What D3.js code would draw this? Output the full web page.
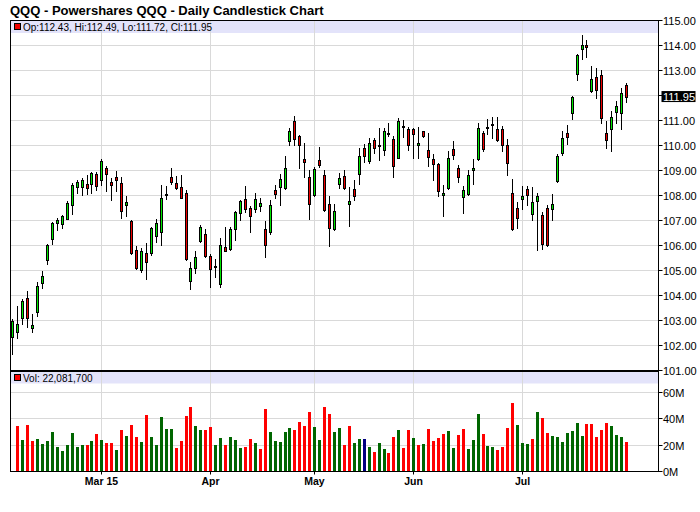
<!DOCTYPE html>
<html><head><meta charset="utf-8">
<script src="https://cdn.jsdelivr.net/npm/d3@7"></script>
<style>body{margin:0;background:#fff}svg{display:block;font-family:"Liberation Sans",Arial,sans-serif}</style>
</head><body><svg id="c" width="700" height="512"></svg>
<script>
const title = "QQQ - Powershares QQQ - Daily Candlestick Chart";
const opens = [102.33,102.53,103.09,103.91,102.69,103.35,104.51,105.43,106.25,106.89,
106.87,107.07,107.63,108.35,108.35,108.44,108.44,108.84,108.60,109.08,
108.52,108.72,108.48,107.61,106.96,105.83,105.00,105.71,105.69,106.39,
106.53,108.00,108.73,108.48,108.33,108.08,104.59,105.08,106.16,106.44,
105.59,105.16,104.47,105.92,105.84,106.64,107.28,107.84,107.48,107.44,
107.56,106.65,106.53,108.20,108.35,108.28,110.19,110.97,110.36,109.44,
108.73,108.03,109.40,108.81,107.65,106.67,108.44,108.77,107.64,108.25,
108.87,109.88,109.37,110.21,110.00,109.80,110.49,110.24,109.51,110.76,
110.65,110.64,110.00,110.57,109.80,109.44,109.24,108.01,108.28,109.85,
109.09,107.92,108.07,109.03,109.45,110.49,110.70,110.82,110.65,110.64,
110.00,108.08,107.49,107.86,108.24,107.27,107.79,107.20,107.49,107.44,
108.57,109.68,110.48,111.28,112.84,113.84,114.00,112.16,112.72,112.80,
110.49,110.67,111.35,111.28,112.43];
const highs = [103.07,103.56,103.84,104.17,103.27,104.55,104.99,106.04,106.95,107.08,
107.21,107.76,108.48,108.60,108.69,108.83,108.93,108.92,109.44,109.17,
108.71,108.96,108.72,107.99,107.00,105.99,105.91,106.11,106.73,107.04,
108.40,108.37,109.09,108.77,108.81,108.20,105.32,105.79,106.81,106.64,
105.65,105.45,106.31,106.73,106.72,107.37,107.80,108.39,107.59,108.08,
107.88,106.97,107.81,108.40,108.84,109.57,110.69,111.17,110.41,110.08,
109.00,109.12,109.93,109.01,107.99,107.65,108.88,109.01,108.33,108.63,
109.88,110.07,110.28,110.31,110.68,110.71,110.91,110.39,111.08,111.01,
110.73,110.71,110.75,110.59,110.48,109.67,109.28,108.41,109.77,110.17,
109.21,108.37,109.00,109.45,110.89,110.57,111.05,111.13,111.13,110.77,
110.25,108.65,107.75,108.36,108.37,108.33,108.09,107.32,107.61,108.05,
109.65,110.56,110.80,111.99,113.67,114.41,114.21,113.17,113.08,113.01,
110.96,111.37,111.77,112.29,112.49];
const lows = [101.64,102.29,102.84,102.73,102.53,103.17,104.31,105.25,106.05,106.61,
106.69,107.05,107.25,108.09,108.00,108.04,108.09,108.20,108.43,108.17,
107.81,108.17,107.11,107.17,105.67,105.04,104.92,104.65,105.61,106.13,
106.01,107.84,108.45,108.25,107.88,105.41,104.24,104.89,106.12,105.55,
104.35,104.75,104.35,105.77,105.80,106.21,107.01,107.35,106.55,107.33,
107.37,105.55,106.47,107.91,107.63,108.25,110.03,110.00,109.11,108.75,
107.07,107.99,109.15,107.39,105.99,106.61,108.28,108.25,106.79,107.81,
108.45,109.32,109.31,109.68,109.41,109.61,110.37,108.75,109.49,110.33,
109.80,109.48,109.49,110.32,109.19,108.61,107.99,107.19,108.27,109.44,
108.55,107.31,108.03,108.47,109.40,109.77,110.44,110.31,110.17,109.79,
108.83,106.63,106.71,107.44,107.63,107.03,105.83,105.87,105.97,107.01,
108.55,109.63,110.07,111.05,112.63,113.47,113.55,112.13,111.91,110.91,
109.91,109.79,110.91,110.64,111.72];
const closes = [102.96,102.87,103.77,103.09,102.80,104.39,104.76,106.01,106.91,107.00,
107.16,107.68,108.40,108.52,108.60,108.29,108.88,108.39,109.36,108.87,
108.41,108.63,107.37,107.72,105.69,105.08,105.79,105.33,106.71,106.88,
107.91,108.07,108.52,108.31,107.91,105.44,105.08,105.52,106.72,105.59,
105.04,105.12,106.00,105.79,106.64,107.32,107.76,107.47,107.16,107.84,
107.69,106.00,107.61,108.07,108.64,109.09,110.56,110.27,110.03,109.35,
107.64,109.05,109.21,107.41,106.71,107.36,108.69,108.28,107.76,107.99,
109.56,109.56,110.08,109.91,110.02,110.57,110.45,109.19,110.97,110.74,
110.03,110.44,110.08,110.39,109.55,109.27,108.19,108.10,109.48,109.63,
108.75,108.20,108.80,109.09,110.68,109.87,110.73,110.85,110.20,110.00,
109.28,106.67,107.08,107.98,108.00,107.72,107.96,106.05,106.01,107.65,
109.57,110.28,110.35,111.93,113.60,114.00,113.92,112.65,112.20,111.08,
110.20,111.12,111.57,112.08,111.95];
// volume in millions (first bar not shown on the chart)
const volumes = [null,34.2,23.4,35.0,22.6,24.2,20.4,22.6,29.4,18.1,
15.1,19.6,28.7,18.1,19.6,19.6,22.6,27.9,23.4,21.1,
21.1,15.8,30.9,26.4,34.7,25.7,21.9,42.3,25.7,19.6,
40.8,31.7,31.7,17.4,22.6,41.5,48.3,34.0,30.9,30.9,
33.2,19.6,24.9,19.6,25.7,23.4,17.4,18.1,24.2,21.1,
16.6,46.8,29.4,22.6,21.9,29.4,32.5,30.9,37.0,34.0,
44.5,33.2,23.4,48.3,43.0,29.4,33.1,19.6,34.0,21.1,
24.2,24.2,18.1,14.3,21.1,16.6,13.6,25.7,30.9,17.4,
30.9,24.9,19.6,20.4,31.7,22.6,24.9,27.9,30.2,17.4,
27.2,31.7,16.6,23.4,43.0,27.9,18.9,18.1,15.8,18.1,
32.5,51.3,34.7,21.1,20.4,24.2,44.5,40.0,28.7,26.4,
25.7,21.9,28.7,30.2,36.2,26.4,35.5,35.5,25.7,30.9,
36.2,34.0,27.2,25.7,22.0817];
const monthLabels = ["Mar 15","Apr","May","Jun","Jul"];
const monthIndex = [18,40,61,81,103];
const priceTicks = [101,102,103,104,105,106,107,108,109,110,111,112,113,114,115];
const volumeTicks = [0,20,40,60];

const svg = d3.select("#c");
const L = 10.5, R = 658.5;
const n = closes.length;
const x = d3.scaleLinear().domain([-0.36, 130.55]).range([L, R]);
const y = d3.scaleLinear().domain([101, 115]).range([370.3, 20.3]);
const yv = d3.scaleLinear().domain([0, 60]).range([471.3, 392]);
const px = i => Math.round(x(i));
const GRID = "#d9d9d9", BAND = "#e3e3fa";
const idx = d3.range(n);

// title
svg.append("text").attr("x", 10).attr("y", 15).attr("font-size", 13).attr("font-weight", "bold")
  .attr("fill", "#000").text(title);

// bands
svg.append("rect").attr("x", L).attr("y", 20.5).attr("width", R - L).attr("height", 12.5).attr("fill", BAND);
svg.append("rect").attr("x", L).attr("y", 372).attr("width", R - L).attr("height", 11.5).attr("fill", BAND);

// price gridlines
svg.append("g").selectAll("line").data(priceTicks.filter(t => t > 101 && t < 115)).join("line")
  .attr("x1", L).attr("x2", R).attr("y1", d => Math.round(y(d)) + 0.5).attr("y2", d => Math.round(y(d)) + 0.5)
  .attr("stroke", GRID).attr("stroke-width", 1);
// volume gridlines
svg.append("g").selectAll("line").data(volumeTicks.filter(t => t > 0)).join("line")
  .attr("x1", L).attr("x2", R).attr("y1", d => Math.round(yv(d)) + 0.5).attr("y2", d => Math.round(yv(d)) + 0.5)
  .attr("stroke", GRID).attr("stroke-width", 1);
// vertical month gridlines
const vg = svg.append("g");
monthIndex.forEach(i => {
  const xx = px(i) + 0.5;
  vg.append("line").attr("x1", xx).attr("x2", xx).attr("y1", 20).attr("y2", 370).attr("stroke", GRID);
  vg.append("line").attr("x1", xx).attr("x2", xx).attr("y1", 372).attr("y2", 471).attr("stroke", GRID);
});

// candles
const cg = svg.append("g").attr("shape-rendering", "crispEdges");
cg.selectAll("line.w").data(idx).join("line").attr("class", "w")
  .attr("x1", i => px(i) + 0.5).attr("x2", i => px(i) + 0.5)
  .attr("y1", i => Math.round(y(highs[i]))).attr("y2", i => Math.round(y(lows[i])) + 1)
  .attr("stroke", "#000").attr("stroke-width", 1);
cg.selectAll("rect.b").data(idx).join("rect").attr("class", "b")
  .attr("x", i => px(i) - 1).attr("width", 3)
  .attr("y", i => Math.round(y(Math.max(opens[i], closes[i]))))
  .attr("height", i => Math.max(2, Math.round(y(Math.min(opens[i], closes[i]))) - Math.round(y(Math.max(opens[i], closes[i]))) + 1))
  .attr("fill", "#000");
cg.selectAll("rect.f").data(idx.filter(i => Math.round(y(Math.min(opens[i], closes[i]))) - Math.round(y(Math.max(opens[i], closes[i]))) >= 2))
  .join("rect").attr("class", "f")
  .attr("x", i => px(i)).attr("width", 1)
  .attr("y", i => Math.round(y(Math.max(opens[i], closes[i]))) + 1)
  .attr("height", i => Math.round(y(Math.min(opens[i], closes[i]))) - Math.round(y(Math.max(opens[i], closes[i]))) - 1)
  .attr("fill", i => closes[i] >= opens[i] ? "#00e600" : "#ee0000");

// volume bars
const vcol = i => closes[i] > closes[i - 1] ? "#006600" : (closes[i] < closes[i - 1] ? "#ff0000" : "#000080");
svg.append("g").attr("shape-rendering", "crispEdges").selectAll("rect")
  .data(idx.filter(i => volumes[i] != null)).join("rect")
  .attr("x", i => px(i) - 1).attr("width", 3)
  .attr("y", i => Math.round(yv(volumes[i])))
  .attr("height", i => Math.round(yv(0)) - Math.round(yv(volumes[i])))
  .attr("fill", vcol);

// legend texts
const last = n - 1;
const lg = svg.append("g");
lg.append("rect").attr("x", 14.5).attr("y", 23.5).attr("width", 6).attr("height", 6).attr("fill", "#ee0000").attr("stroke", "#000").attr("stroke-width", 1);
lg.append("text").attr("x", 23).attr("y", 30.5).attr("font-size", 10).attr("fill", "#000")
  .text(`Op:${opens[last].toFixed(2)}, Hi:${highs[last].toFixed(2)}, Lo:${lows[last].toFixed(2)}, Cl:${closes[last].toFixed(2)}`);
lg.append("rect").attr("x", 14.5).attr("y", 374.5).attr("width", 6).attr("height", 6).attr("fill", "#ff0000").attr("stroke", "#000").attr("stroke-width", 1);
lg.append("text").attr("x", 23).attr("y", 381.5).attr("font-size", 10).attr("fill", "#000")
  .text("Vol: " + d3.format(",")(Math.round(volumes[last] * 1e6)));

// borders
const bd = svg.append("g").attr("stroke", "#000").attr("shape-rendering", "crispEdges");
bd.append("line").attr("x1", L).attr("x2", R).attr("y1", 20.5).attr("y2", 20.5);
bd.append("line").attr("x1", L).attr("x2", L).attr("y1", 20).attr("y2", 472);
bd.append("line").attr("x1", R).attr("x2", R).attr("y1", 20).attr("y2", 472);
bd.append("line").attr("x1", L).attr("x2", R).attr("y1", 371).attr("y2", 371).attr("stroke-width", 2);
bd.append("line").attr("x1", L).attr("x2", R).attr("y1", 471.5).attr("y2", 471.5);

// right price axis
const lastY = y(closes[last]);
const ax = svg.append("g").attr("font-size", 11).attr("fill", "#000");
priceTicks.forEach(t => {
  const yy = Math.round(y(t)) + 0.5;
  ax.append("line").attr("x1", R).attr("x2", R + 4).attr("y1", yy).attr("y2", yy).attr("stroke", "#000");
  if (Math.abs(y(t) - lastY) > 8)
    ax.append("text").attr("x", 663).attr("y", yy + 4).text(t.toFixed(2));
});
ax.append("rect").attr("x", 661.5).attr("y", lastY - 5.5).attr("width", 34).attr("height", 11).attr("fill", "#000");
ax.append("text").attr("x", 663).attr("y", lastY + 4).attr("fill", "#fff").text(closes[last].toFixed(2));
// volume axis
volumeTicks.forEach(t => {
  const yy = Math.round(yv(t)) + 0.5;
  ax.append("line").attr("x1", R).attr("x2", R + 4).attr("y1", yy).attr("y2", yy).attr("stroke", "#000");
  ax.append("text").attr("x", 663).attr("y", yy + 4).text(t + "M");
});
// month axis
monthIndex.forEach((i, k) => {
  const xx = px(i) + 0.5;
  svg.append("line").attr("x1", xx).attr("x2", xx).attr("y1", 471.5).attr("y2", 474.5).attr("stroke", "#000");
  svg.append("text").attr("x", xx).attr("y", 484.5).attr("text-anchor", "middle").attr("font-size", 10.5)
    .attr("font-weight", "bold").attr("fill", "#000").text(monthLabels[k]);
});
</script></body></html>
